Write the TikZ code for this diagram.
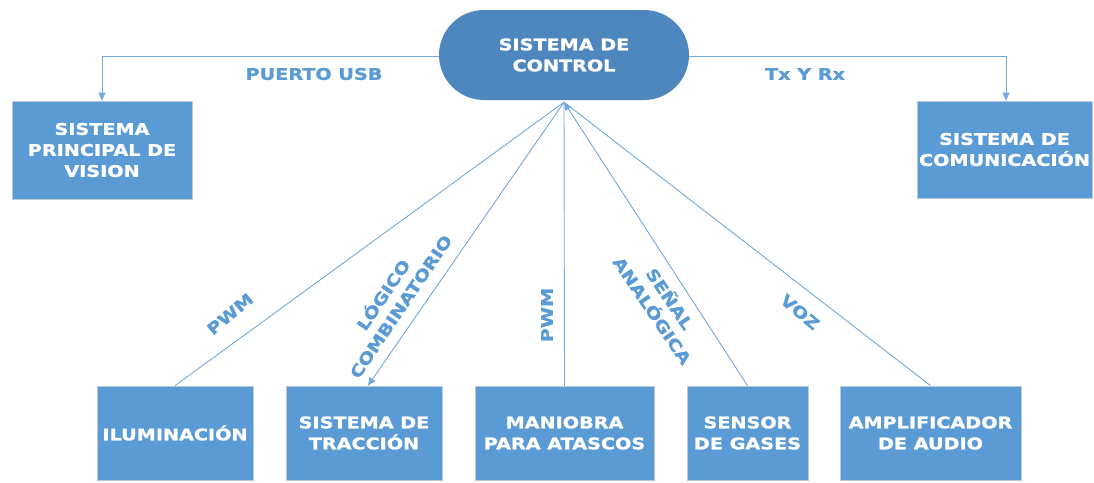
\documentclass[tikz,border=0pt]{standalone}
\usepackage{fontspec}
\usetikzlibrary{arrows.meta,calc}
\newfontfamily\lblfont{DejaVu Sans Bold}[FakeStretch=1.2,FakeBold=1.2]
\definecolor{boxblue}{HTML}{5B9BD5}
\definecolor{ctrlblue}{HTML}{4D87BD}
\definecolor{linkblue}{HTML}{74A8DC}
\definecolor{edgegray}{HTML}{B8C8D8}
\tikzset{
  every node/.style={font=\lblfont\fontsize{16}{21}\selectfont},
  blockbox/.style={rectangle, fill=boxblue, draw=edgegray, line width=0.7pt, text=white, align=center, inner sep=0pt},
  ctrlbox/.style={rectangle, rounded corners=45pt, fill=ctrlblue, text=white, align=center, inner sep=0pt, minimum width=250pt, minimum height=90pt},
  link/.style={draw=linkblue, line width=0.9pt},
  tip/.style={-{Triangle[length=8pt,width=7pt]}},
  linklabel/.style={text=boxblue, align=center, inner sep=0pt}
}
\begin{document}
\begin{tikzpicture}[x=1pt,y=-1pt]
\useasboundingbox (0,0) rectangle (1094,482);
% control
\node[ctrlbox] (ctrl) at (564,55) {SISTEMA DE\\CONTROL};
% top boxes
\node[blockbox, minimum width=180pt, minimum height=98pt] (vis) at (102,150) {SISTEMA\\PRINCIPAL DE\\VISION};
\node[blockbox, minimum width=175pt, minimum height=97pt] (com) at (1004.5,149.5) {SISTEMA DE\\COMUNICACIÓN};
% bottom boxes
\node[blockbox, minimum width=156pt, minimum height=94pt] (ilum) at (175,433) {ILUMINACIÓN};
\node[blockbox, minimum width=156pt, minimum height=94pt] (trac) at (364,433) {SISTEMA DE\\TRACCIÓN};
\node[blockbox, minimum width=179pt, minimum height=94pt] (man) at (564.5,433) {MANIOBRA\\PARA ATASCOS};
\node[blockbox, minimum width=121pt, minimum height=94pt] (sen) at (747.5,433) {SENSOR\\DE GASES};
\node[blockbox, minimum width=181pt, minimum height=94pt] (amp) at (930.5,433) {AMPLIFICADOR\\DE AUDIO};
% hub
\coordinate (hub) at ($(ctrl.south)+(0,2)$);
% top connectors
\draw[link, tip] (ctrl.west |- 0,56) -| (vis.north);
\draw[link, tip] (ctrl.east |- 0,56) -| ([xshift=1.5pt]com.north);
% bottom connectors
\draw[link] (hub) -- (ilum.north);
\draw[link, tip] (hub) -- ([xshift=4pt]trac.north);
\draw[link] (hub) -- (man.north);
\draw[link, tip] (sen.north) -- (hub);
\draw[link] (hub) -- (amp.north);
% labels
\node[linklabel] (lusb) at (314,74) {PUERTO USB};
\node[linklabel] (ltx) at (805,74) {Tx Y Rx};
\node[linklabel, rotate=40] (lpwm1) at (230,314) {PWM};
\node[linklabel, rotate=56] (llog) at (391,300) {LÓGICO\\COMBINATORIO};
\node[linklabel, rotate=90] (lpwm2) at (547,315) {PWM};
\node[linklabel, rotate=-56] (lsen) at (662,304) {SEÑAL\\ANALÓGICA};
\node[linklabel, rotate=-40] (lvoz) at (800,312) {VOZ};
\end{tikzpicture}
\end{document}
